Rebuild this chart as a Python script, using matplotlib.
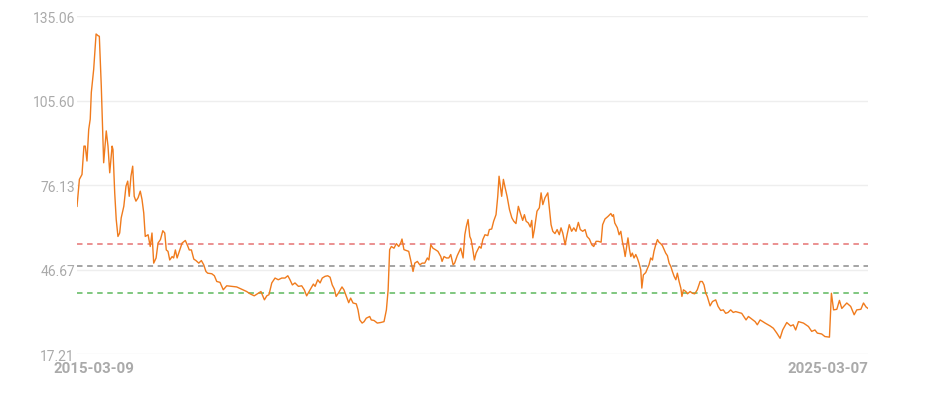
import numpy as np
import pandas as pd
import matplotlib
matplotlib.use("Agg")
import matplotlib.pyplot as plt
import matplotlib.transforms as mtransforms

# ── Data ──────────────────────────────────────────────────────────────────────
START = pd.Timestamp("2015-03-09")
END = pd.Timestamp("2025-03-07")

# day offsets from START
days = [
    0, 11, 23, 32, 38, 46, 54, 61, 66, 77, 88, 97, 103, 112, 123, 135, 143, 151,
    162, 166, 174, 181, 189, 197, 204, 216, 226, 234, 241, 249, 257, 264, 272,
    282, 292, 300, 308, 315, 328, 338, 346, 354, 365, 374, 385, 396, 405, 412,
    420, 428, 439, 446, 454, 462, 472, 485, 500, 512, 518, 528, 539, 549, 562,
    574, 585, 595,
    603, 622, 634, 645, 660, 675, 691, 714, 737, 760, 783, 799, 818, 837, 849,
    865, 876, 886, 899, 914, 929, 945, 960, 973, 983, 994, 1006, 1022, 1037,
    1049, 1060, 1076, 1091, 1099, 1111, 1122, 1132, 1145, 1157, 1168, 1178,
    1188, 1196, 1206,
    1217, 1223, 1232, 1243, 1254, 1263, 1274, 1289, 1297, 1305, 1316, 1325,
    1335, 1351, 1358, 1371, 1386, 1402, 1417, 1428, 1436, 1443, 1451, 1463,
    1474, 1485, 1494, 1500, 1509, 1520, 1531, 1540, 1551, 1559, 1571, 1582,
    1593, 1605, 1617, 1624, 1633, 1643, 1654, 1666, 1679, 1685, 1694, 1705,
    1716, 1725, 1736, 1743, 1755, 1771, 1782, 1790, 1797, 1805, 1813, 1819,
    1827, 1834, 1842, 1850, 1857, 1865, 1873, 1883, 1896, 1903, 1914, 1923,
    1934, 1942, 1948, 1954, 1960, 1968, 1976, 1985, 1996, 2007, 2016, 2026,
    2037, 2046, 2057, 2065, 2073, 2083, 2092, 2099, 2104, 2111, 2123, 2134,
    2142, 2150, 2160, 2173, 2180, 2188, 2196, 2206, 2216, 2226, 2234, 2242,
    2253, 2262, 2272, 2283, 2293, 2303, 2314, 2323, 2334, 2345, 2354, 2365,
    2376, 2385, 2396, 2406, 2419, 2426, 2437,
    2451, 2464, 2471, 2476, 2482, 2494, 2502, 2510, 2517, 2525, 2530, 2537,
    2543, 2550, 2556, 2563, 2571, 2579, 2586, 2594, 2602, 2607, 2614, 2625,
    2633, 2640, 2648, 2656, 2663, 2671, 2679, 2686, 2694, 2702, 2710, 2717,
    2725, 2733, 2741, 2748, 2756, 2764, 2771, 2779, 2787, 2792, 2799, 2810,
    2818, 2830, 2840, 2851, 2863, 2876, 2886, 2894, 2902, 2909, 2922, 2933,
    2948, 2959, 2971, 2983, 2994, 3005, 3017, 3029, 3040,
    3068, 3088, 3099, 3130, 3140, 3153, 3176, 3199, 3214, 3230, 3245, 3257,
    3276, 3294, 3306, 3317, 3330, 3353, 3376, 3391, 3406, 3417, 3437, 3452,
    3473, 3482, 3492, 3507, 3519, 3530, 3553, 3571, 3587, 3599, 3618, 3630,
    3642, 3651,
]

values = [
    68.7, 78.1, 79.8, 89.7, 89.7, 84.5, 95.5, 99.1, 108.4, 116.5, 128.8, 128.2,
    128.0, 110.7, 83.9, 95.0, 89.7, 80.4, 89.7, 88.5, 73.4, 64.1, 58.2, 59.4,
    64.7, 68.7, 75.7, 77.5, 72.2, 79.2, 82.7, 72.2, 70.5, 71.7, 74.0, 71.1,
    66.4, 58.2, 58.8, 54.7, 59.4, 48.9, 50.7, 55.9, 57.1, 60.2, 59.4, 53.5,
    53.0, 50.0, 51.2, 50.7, 53.5, 50.7, 53.0, 55.9, 56.8, 54.7, 53.5, 53.5,
    50.3, 49.8, 48.9, 49.8, 48.3, 46.0,
    45.4, 45.2, 44.5, 42.5, 42.2, 39.6, 41.0, 40.8, 40.6, 39.8, 39.0, 38.2,
    37.5, 38.4, 39.0, 36.1, 37.5, 37.9, 42.0, 43.7, 43.1, 43.7, 43.7, 44.5,
    43.1, 41.3, 42.0, 40.8, 41.0, 39.6, 37.5, 39.6, 41.6, 40.8, 43.1, 42.0,
    43.7, 44.3, 44.5, 44.0, 41.3, 39.8, 37.3, 38.4,
    39.8, 40.6, 39.6, 37.3, 35.1, 36.7, 35.0, 34.7, 32.6, 29.1, 28.0, 28.5,
    29.7, 30.3, 29.1, 28.9, 28.0, 28.2, 28.5, 32.6, 39.6, 53.6, 54.7, 54.1,
    55.7, 54.7, 55.9, 57.3, 53.6, 53.3, 53.0, 50.0, 46.0, 48.9, 49.5, 48.3,
    48.9, 48.9, 50.7, 50.0, 55.3, 54.1, 53.6, 53.0, 51.2, 49.5, 51.2, 50.7,
    50.7, 51.9, 48.3, 48.9, 51.5, 54.1, 50.7, 58.8, 61.7, 64.1, 58.2, 57.1,
    53.6, 50.0, 52.4, 53.6, 54.7, 54.1, 57.1, 58.8, 58.5, 60.6, 60.8, 63.5,
    65.8, 72.2, 79.2, 75.7, 72.2, 78.1, 75.2, 72.2, 67.6, 64.7, 63.5, 62.7,
    68.7, 66.4, 63.8, 65.8, 63.5, 62.9, 61.5, 63.8, 57.7, 60.6, 67.0, 68.2,
    73.4, 69.3, 71.7, 73.4, 68.2, 62.3, 60.0, 59.2, 60.6, 58.8, 61.2, 59.4,
    55.3, 58.8, 62.3, 60.0, 61.2, 60.0, 63.1, 60.6, 60.0, 60.6, 58.2, 57.3,
    55.3, 54.7, 56.5, 56.5, 56.2, 62.3, 64.3,
    65.2, 66.2, 65.2, 65.8, 62.9, 61.2, 58.8, 60.0, 56.5, 53.6, 51.2, 54.7,
    57.7, 53.6, 51.2, 52.4, 50.7, 51.9, 50.7, 48.9, 46.6, 40.2, 44.8, 45.6,
    47.1, 48.3, 50.7, 50.0, 53.0, 55.3, 57.1, 56.2, 55.7, 55.0, 53.6, 52.4,
    51.5, 48.9, 47.7, 46.0, 44.3, 43.1, 45.4, 42.5, 40.2, 37.3, 39.6, 39.0,
    38.2, 39.0, 38.4, 38.2, 39.6, 42.5, 42.5, 41.3, 38.4, 37.3, 34.0, 35.5,
    36.1, 33.8, 32.4, 32.6, 31.4, 31.7, 32.6, 31.7, 32.0,
    31.4, 29.1, 30.3, 28.5, 27.4, 29.1, 28.0, 27.0, 26.2, 24.5, 22.7, 25.6,
    28.2, 27.0, 27.4, 25.6, 28.5, 28.0, 26.8, 25.1, 25.6, 24.5, 24.2, 23.3,
    23.1, 38.4, 32.6, 32.8, 35.9, 33.1, 35.0, 33.8, 30.9, 32.6, 32.8, 35.0,
    33.6, 33.1,
]

y_ticks = [17.21, 46.67, 76.13, 105.60, 135.06]
x_tick_labels = ["2015-03-09", "2025-03-07"]

# reference levels (dashed)
level_high = 55.6
level_mid = 48.0
level_low = 38.4

dates = START + pd.to_timedelta(days, unit="D")

# ── Figure ────────────────────────────────────────────────────────────────────
plt.rcParams["font.family"] = ["Roboto", "DejaVu Sans"]

fig = plt.figure(figsize=(9.38, 4.10), dpi=100)
ax = fig.add_axes([0.0821, 0.1341, 0.8433, 0.8244])

for yv in y_ticks:
    ax.axhline(yv, color="#eeeeee", lw=1.0, zorder=0)

ax.axhline(level_high, color="#e57373", lw=1.1, ls=(0, (3.6, 3.0)), zorder=1)
ax.axhline(level_mid, color="#8c8c8c", lw=1.1, ls=(0, (3.6, 3.0)), zorder=1)
ax.axhline(level_low, color="#5cb85c", lw=1.1, ls=(0, (3.6, 3.0)), zorder=1)

ax.plot(dates, values, color="#f07b1d", lw=1.0, zorder=3)

ax.set_xlim(START, END)
ax.set_ylim(y_ticks[0], y_ticks[-1])

ax.set_yticks(y_ticks)
ax.set_yticklabels([f"{v:.2f}" for v in y_ticks], color="#aaaaaa", fontsize=10)
ax.set_xticks([START, END])
ax.set_xticklabels(x_tick_labels, color="#aaaaaa", fontsize=10.8, fontweight="bold")
ax.tick_params(axis="both", length=0)
ax.tick_params(axis="y", pad=1.5)
ax.tick_params(axis="x", pad=5)

labels = ax.get_xticklabels()
labels[0].set_transform(labels[0].get_transform() +
                        mtransforms.ScaledTranslation(17 / 100, 0, fig.dpi_scale_trans))
labels[1].set_horizontalalignment("right")

for s in ax.spines.values():
    s.set_visible(False)

fig.savefig("out.png", dpi=100, facecolor="white")
